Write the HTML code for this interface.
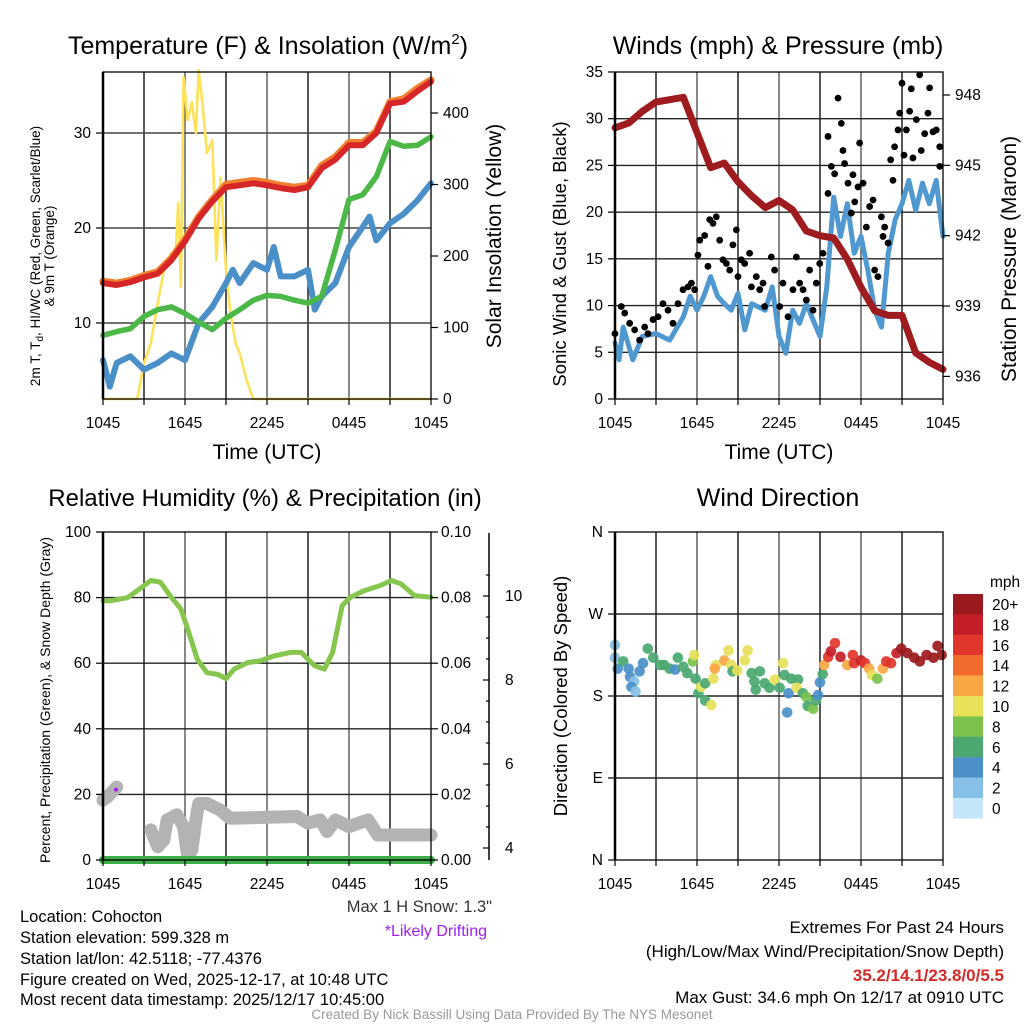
<!DOCTYPE html>
<html><head><meta charset="utf-8"><style>
body{margin:0;background:#fff;}
svg{display:block;font-family:"Liberation Sans",Arial,sans-serif;}
</style></head><body>
<svg id="c" width="1024" height="1024" viewBox="0 0 1024 1024" xmlns="http://www.w3.org/2000/svg">
<rect width="1024" height="1024" fill="#fff"/>
<g id="grid"></g><g id="series"></g><g id="frames"></g><g id="labels"></g>
<text x="268" y="54" font-size="25" text-anchor="middle">Temperature (F) &amp; Insolation (W/m<tspan dy="-10" font-size="15">2</tspan><tspan dy="10">)</tspan></text>
<text x="778" y="54" font-size="25" text-anchor="middle">Winds (mph) &amp; Pressure (mb)</text>
<text x="265" y="506" font-size="24" text-anchor="middle">Relative Humidity (%) &amp; Precipitation (in)</text>
<text x="778" y="506" font-size="25" text-anchor="middle">Wind Direction</text>
<text x="267" y="459" font-size="21" text-anchor="middle">Time (UTC)</text>
<text x="779" y="459" font-size="21" text-anchor="middle">Time (UTC)</text>
<text transform="translate(40,256) rotate(-90)" font-size="13.5" text-anchor="middle">2m T, T<tspan dy="3" font-size="10">d</tspan><tspan dy="-3">, HI/WC (Red, Green, Scarlet/Blue)</tspan></text>
<text transform="translate(54,256) rotate(-90)" font-size="13.5" text-anchor="middle">&amp; 9m T (Orange)</text>
<text transform="translate(501,236) rotate(-90)" font-size="21" text-anchor="middle">Solar Insolation (Yellow)</text>
<text transform="translate(566,254) rotate(-90)" font-size="18.5" text-anchor="middle">Sonic Wind &amp; Gust (Blue, Black)</text>
<text transform="translate(1016,259) rotate(-90)" font-size="21" text-anchor="middle">Station Pressure (Maroon)</text>
<text transform="translate(50,700) rotate(-90)" font-size="14" text-anchor="middle">Percent, Precipitation (Green), &amp; Snow Depth (Gray)</text>
<text transform="translate(567,696) rotate(-90)" font-size="18.5" text-anchor="middle">Direction (Colored By Speed)</text>
<text x="492" y="912" font-size="16.5" text-anchor="end" fill="#333">Max 1 H Snow: 1.3"</text>
<text x="487" y="936" font-size="16" text-anchor="end" fill="#a020f0">*Likely Drifting</text>
<g font-size="16.5">
<text x="20" y="922">Location: Cohocton</text>
<text x="20" y="943">Station elevation: 599.328 m</text>
<text x="20" y="964">Station lat/lon: 42.5118; -77.4376</text>
<text x="20" y="985">Figure created on Wed, 2025-12-17, at 10:48 UTC</text>
<text x="20" y="1005">Most recent data timestamp: 2025/12/17 10:45:00</text>
</g>
<g font-size="17" text-anchor="end">
<text x="1004" y="933">Extremes For Past 24 Hours</text>
<text x="1004" y="957">(High/Low/Max Wind/Precipitation/Snow Depth)</text>
<text x="1004" y="981" fill="#d42a2a" font-weight="bold">35.2/14.1/23.8/0/5.5</text>
<text x="1004" y="1003">Max Gust: 34.6 mph On 12/17 at 0910 UTC</text>
</g>
<text x="512" y="1019" font-size="13.5" text-anchor="middle" fill="#999">Created By Nick Bassill Using Data Provided By The NYS Mesonet</text>
</svg>
<script>
// ---- time axis
const timeTicks=["1045","1645","2245","0445","1045"];
// ---- panel 1: temperature (hours since 1045 UTC)
const tempHours=[0,1,2,3,4,5,6,7,8,9,10,11,12,13,14,15,16,17,18,19,20,21,22,23,24];
const temp2m=[14.2,14.0,14.3,14.8,15.2,16.6,18.6,21.0,22.8,24.3,24.5,24.7,24.5,24.2,24.0,24.3,26.3,27.2,28.7,28.7,30.0,33.1,33.3,34.4,35.4];
const temp9m=[14.4,14.2,14.5,15.0,15.4,16.8,18.8,21.2,23.0,24.6,24.8,25.0,24.8,24.5,24.3,24.5,26.6,27.5,29.0,29.0,30.2,33.3,33.6,34.7,35.6];
const dewpt=[8.7,9.1,9.4,10.7,11.4,11.7,11.0,10.1,9.3,10.5,11.4,12.4,12.9,12.8,12.4,12.1,12.8,17.7,23.0,23.5,25.4,29.1,28.6,28.7,29.6];
const wcHours=[0,0.5,1,2,3,4,5,6,7,8,9,9.5,10,11,12,12.5,13,14,15,15.5,16,17,18,19,19.5,20,21,22,23,24];
const windChill=[6.1,3.3,5.8,6.5,5.1,5.8,6.8,6.1,10.0,11.7,14.2,15.6,14.2,16.3,15.6,18.0,14.9,14.9,15.6,11.4,12.8,14.2,18.0,20.1,21.2,18.7,20.5,21.5,22.9,24.7];
const insHours=[0,2,2.5,3,3.5,4,4.5,5,5.3,5.5,5.7,5.9,6.2,6.5,6.8,7,7.3,7.6,8,8.3,8.6,9,9.3,9.7,10,10.5,11,24];
const insolation=[0,0,0,50,78,134,185,204,199,274,157,450,390,415,372,460,408,344,362,194,310,180,124,78,64,27,0,0];
const tempTicks=[10,20,30];
const insTicks=[0,100,200,300,400];
// ---- panel 2: winds & pressure
const presHours=[0,1,2,3,4,5,6,7,8,9,10,11,12,13,14,15,16,17,18,19,20,21,22,23,24];
const pressure=[946.6,946.8,947.3,947.7,947.8,947.9,946.4,944.9,945.1,944.3,943.7,943.2,943.5,943.1,942.2,942.0,941.9,941.0,939.8,938.8,938.6,938.6,937.0,936.6,936.3];
const windHours=[0,0.3,0.6,1.3,2,3,4,5,5.5,6,6.5,7,7.5,8,8.5,9,9.5,10,11,11.5,12,12.5,13,13.5,14,15,15.5,16,16.5,17,17.5,18,18.5,19,19.5,20,20.5,21,21.5,22,22.5,23,23.5,24];
const windSpeed=[6.0,4.2,7.7,4.2,6.7,7.0,6.3,8.8,11.0,9.5,11.0,13.1,11.0,10.2,9.5,11.3,7.4,10.2,9.5,12.0,6.7,4.9,9.5,8.1,10.2,6.7,12.0,21.6,17.4,20.9,15.6,17.4,13.8,9.5,7.7,15.6,19.2,20.9,23.4,20.2,23.1,20.9,23.4,17.4];
const gustHours=[0,0.46,0.71,1.07,1.44,1.8,2.17,2.41,2.78,3.15,3.51,3.88,4.24,4.61,4.98,5.34,5.59,5.83,6.07,6.2,6.56,6.8,6.93,7.17,7.41,7.66,7.9,8.15,8.39,8.63,8.88,9.0,9.24,9.49,9.85,9.98,10.34,10.59,10.83,10.95,11.44,11.68,12.05,12.29,12.66,13.02,13.27,13.51,13.76,14.0,14.24,14.49,14.73,14.98,15.22,15.59,15.59,15.83,16.07,16.32,16.56,16.68,16.8,17.05,17.29,17.41,17.54,17.78,17.9,18.15,18.39,18.63,18.88,19.0,19.24,19.49,19.61,19.73,19.98,20.17,20.34,20.46,20.71,20.83,21.0,21.15,21.32,21.56,21.68,21.8,22.05,22.29,22.41,22.66,22.9,23.02,23.27,23.51,23.76,23.76];
const gustSpeed=[7.0,9.9,9.2,8.1,7.4,6.3,7.7,7.0,8.5,8.8,10.2,9.5,8.1,10.2,11.7,12.0,12.4,11.7,15.4,17.0,17.5,14.2,19.2,18.8,19.5,17.0,14.9,14.5,13.8,16.5,18.1,13.1,14.9,14.5,15.6,12.0,13.1,11.7,12.4,9.9,15.2,13.8,9.9,12.4,8.8,11.7,15.2,12.4,11.7,10.6,13.8,9.5,12.4,14.5,15.6,28.1,22.0,24.9,24.1,32.2,29.5,26.6,25.2,23.1,19.9,24.0,21.1,22.7,27.4,23.1,18.4,20.6,21.3,13.8,13.1,19.5,17.4,18.4,16.7,25.6,23.4,27.0,28.8,30.6,33.8,26.1,28.8,30.8,33.2,25.8,29.9,34.7,26.6,28.4,30.6,33.3,28.6,28.8,27.0,24.9];
const windTicks=[0,5,10,15,20,25,30,35];
const presTicks=[936,939,942,945,948];
// ---- panel 3: humidity, precip, snow
const rhHours=[0,0.5,1.8,2.7,3.5,4.2,4.9,5.7,6.2,6.9,7.6,8.4,9.0,9.6,10.6,11.5,12.5,13.7,14.5,15.0,15.5,16.2,16.8,17.5,18.1,19.1,20.3,21.1,21.8,22.8,24];
const relHum=[79.1,79,80,82.7,85.2,84.7,80.6,76.5,70.4,61.2,57.1,56.6,55.3,58.2,60.2,60.7,62.2,63.3,63.3,61.2,59.2,58.2,63.3,77.6,80.1,82.1,83.7,85.2,84.2,80.6,80.1];
const precipHours=[0,24];
const precip=[0,0];
const snowHours1=[0,0.3,1.0];
const snowDepth1=[5.14,5.21,5.45];
const snowHours2=[3.5,4.0,4.45,4.7,5.4,5.9,6.2,6.5,6.8,7.0,7.6,8.6,9.3,14.2,15.0,15.9,16.4,17.0,18.0,19.4,20.1,24];
const snowDepth2=[4.43,4.03,4.19,4.67,4.79,4.51,3.79,3.95,4.67,5.06,5.06,4.90,4.71,4.75,4.59,4.67,4.39,4.67,4.51,4.67,4.31,4.31];
const driftHour=[0.95];
const driftDepth=[5.39];
const rhTicks=[0,20,40,60,80,100];
const precipTicks=["0.00","0.02","0.04","0.06","0.08","0.10"];
const snowTicks=[4,6,8,10];
// ---- panel 4: wind direction
const dirHours=[0,0,0.2,0.6,1.0,1.1,1.4,1.2,1.5,1.8,2.05,2.4,2.8,3.3,3.6,4.0,4.4,4.6,5.0,5.3,5.7,5.8,5.9,6.1,6.3,6.6,6.6,7.05,7.2,7.4,7.3,8.0,8.3,8.5,8.6,8.95,9.5,9.7,10.0,10.2,10.6,10.3,10.95,11.3,11.7,12.05,12.3,12.4,12.7,12.6,12.9,13.4,13.3,13.75,14.0,14.1,14.5,14.7,14.85,15.0,15.2,15.3,15.6,15.8,16.1,16.5,17.0,17.4,17.5,18.0,18.3,18.6,18.8,19.2,19.6,19.85,20.2,20.6,20.95,21.4,21.9,22.3,22.8,23.3,23.6,23.9];
const dirDeg=[236,222,210,218,210,201,196,190,185,207,216,232,222,214,214,210,209,222,212,205,218,225,199,183,190,194,175,170,199,214,210,219,230,214,207,208,219,230,205,196,207,187,194,189,198,189,216,203,183,162,199,198,189,183,179,169,166,175,181,195,204,214,223,229,238,223,214,225,216,219,216,210,203,199,210,218,216,227,232,227,222,218,225,222,235,225];
const dirSpeed=[3,3,4,7,5,4,3,5,3,4,4,6,6,6,6,6,5,7,7,7,8,10,6,7,10,7,7,10,10,11,12,12,10,11,6,10,10,10,6,7,7,6,6,7,10,6,10,6,5,4,7,7,10,7,8,6,8,6,5,4,7,13,16,19,17,19,13,16,16,18,16,13,10,8,12,16,16,19,20,20,20,20,20,20,20,20];
const cbLabels=["20+","18","16","14","12","10","8","6","4","2","0"];
const cbColors=["#9b1a1d","#c41f28","#e0362b","#f26a2c","#f9a745","#e6e159","#7bc24c","#4aa870","#4a8fc8","#87c0e6","#c3e7f8"];
const dirTicks=["N","E","S","W","N"];

const NS="http://www.w3.org/2000/svg";
function mk(parent,tag,attrs){const e=document.createElementNS(NS,tag);for(const k in attrs)e.setAttribute(k,attrs[k]);document.getElementById(parent).appendChild(e);return e;}
function txt(parent,x,y,s,anchor,size){const e=mk(parent,'text',{x:x,y:y,'text-anchor':anchor,'font-size':size||15});e.textContent=s;return e;}
const W=328;
const P={t:{x0:103,y0:72,y1:399},w:{x0:615,y0:72,y1:399},h:{x0:103,y0:532,y1:860},d:{x0:615,y0:532,y1:860}};
function tx(p,h){return P[p].x0+h*W/24;}
const tempY=v=>323-(v-10)*9.5, insY=v=>399-v*0.715;
const windY=v=>399-v*9.343, presY=v=>95+(948-v)*23.45;
const rhY=v=>860-v*3.28, precipY=v=>860-v*3280, snowY=v=>848-(v-4)*42;
const dirY=v=>860-v*328/360;

function line(p,hours,vals,yf,color,w,name,opac){
  const pts=hours.map((h,i)=>tx(p,h).toFixed(1)+','+yf(vals[i]).toFixed(1)).join(' ');
  const e=mk('series','polyline',{points:pts,fill:'none',stroke:color,'stroke-width':w,'stroke-linejoin':'round','stroke-linecap':'round'});
  if(opac)e.setAttribute('opacity',opac);
  
  
  return e;
}
for(const p of ['t','w','h','d']){
  const g=P[p];
  for(let h=3;h<24;h+=3){
    const e=mk('grid','line',{x1:tx(p,h),x2:tx(p,h),y1:g.y0,y2:g.y1,stroke:(h%6==0)?'#555':'#111','stroke-width':1.4});
    
    
  }
  for(let i=0;i<timeTicks.length;i++){
    const x=tx(p,i*6);
    const t=txt('labels',x,g.y1+29,timeTicks[i],'middle',15.5);
    
    
  }
  for(let h=0;h<=24;h+=3){mk('frames','line',{x1:tx(p,h),x2:tx(p,h),y1:g.y1,y2:g.y1+6,stroke:'#000','stroke-width':1.2});}
  const fr=mk('frames','rect',{x:g.x0,y:g.y0,width:W,height:g.y1-g.y0,fill:'none',stroke:'#000','stroke-width':1.3});
  
  
  mk('frames','line',{x1:g.x0,x2:g.x0,y1:g.y0,y2:g.y1,stroke:'#000','stroke-width':2.5});
}
function hgrid(p,vals,yf,color){for(const v of vals){const y=yf(v);if(y<=P[p].y0+1||y>=P[p].y1-1)continue;const e=mk('grid','line',{x1:P[p].x0,x2:P[p].x0+W,y1:y,y2:y,stroke:color||'#222','stroke-width':1.4});}}
function yticks(p,vals,yf,labels,side,dx){
  vals.forEach((v,i)=>{const y=yf(v);const x=side==='l'?P[p].x0:P[p].x0+W;
    mk('frames','line',{x1:x,x2:x+(side==='l'?-7:7),y1:y,y2:y,stroke:'#000','stroke-width':1.2});
    const t=txt('labels',side==='l'?x-12:x+(dx||10),y+5,labels[i],side==='l'?'end':'start',15.5);
    
    });
}
// panel 1
hgrid('t',tempTicks,tempY,'#444');
yticks('t',tempTicks,tempY,tempTicks.map(String),'l');
yticks('t',insTicks,insY,insTicks.map(String),'r',12);
line('t',insHours,insolation,insY,'#fde25a',2.6,'insolation-line');
line('t',wcHours,windChill,tempY,'#4a8fc8',6,'wind-chill-line');
line('t',tempHours,dewpt,tempY,'#4cb848',5.5,'dewpoint-line');
line('t',tempHours,temp9m,tempY,'#f0802f',7,'temp-9m-line');
line('t',tempHours,temp2m,tempY,'#d62628',6,'temp-2m-line');
// panel 2
hgrid('w',windTicks,windY,'#222');
yticks('w',windTicks,windY,windTicks.map(String),'l');
yticks('w',presTicks,presY,presTicks.map(String),'r',12);
line('w',windHours,windSpeed,windY,'#4f98d0',5,'wind-speed-line');
gustHours.forEach((h,i)=>{const c=mk('series','circle',{cx:tx('w',h),cy:windY(gustSpeed[i]),r:3.4,fill:'#000'});
  
  });
line('w',presHours,pressure,presY,'#9e1b1f',7,'pressure-line');
// panel 3
hgrid('h',[20,40,60,80],rhY,'#222');
yticks('h',rhTicks,rhY,rhTicks.map(String),'l');
yticks('h',[0,0.02,0.04,0.06,0.08,0.1],precipY,precipTicks,'r',10);
line('h',snowHours1,snowDepth1,snowY,'#b3b3b3',13,'snow-depth-line-1');
line('h',snowHours2,snowDepth2,snowY,'#b3b3b3',13,'snow-depth-line-2');
const dd=mk('series','circle',{cx:tx('h',driftHour[0]),cy:snowY(driftDepth[0]),r:2,fill:'#a020f0'});


line('h',rhHours,relHum,rhY,'#86c64e',5,'relative-humidity-line');
line('h',precipHours,precip,precipY,'#3fae4a',8,'precipitation-line');
const sa=mk('frames','line',{x1:489,x2:489,y1:533,y2:860,stroke:'#000','stroke-width':1.5});


for(let s=4;s<=10.5;s+=0.5){mk('frames','line',{x1:489,x2:s%2==0?483:486,y1:snowY(s),y2:snowY(s),stroke:'#000','stroke-width':1.2});}
snowTicks.forEach(s=>{const t=txt('labels',505,snowY(s)+5,String(s),'start',15.5);
  
  });
// panel 4
hgrid('d',[90,180,270],dirY,'#222');
yticks('d',[0,90,180,270,360],dirY,dirTicks,'l');
dirHours.forEach((h,i)=>{const b=Math.min(10,Math.floor(dirSpeed[i]/2));
  const c=mk('series','circle',{cx:tx('d',h),cy:dirY(dirDeg[i]),r:5.3,fill:cbColors[10-b],opacity:0.92});
  
  });
cbLabels.forEach((l,i)=>{const y=594+i*20.4;
  const r=mk('labels','rect',{x:953,y:y,width:30,height:20.6,fill:cbColors[i]});
  
  
  const t=txt('labels',992,y+16,l,'start',15.5);
  
  });
const cu=txt('labels',990,587,'mph','start',15.5);


</script>
</body></html>
